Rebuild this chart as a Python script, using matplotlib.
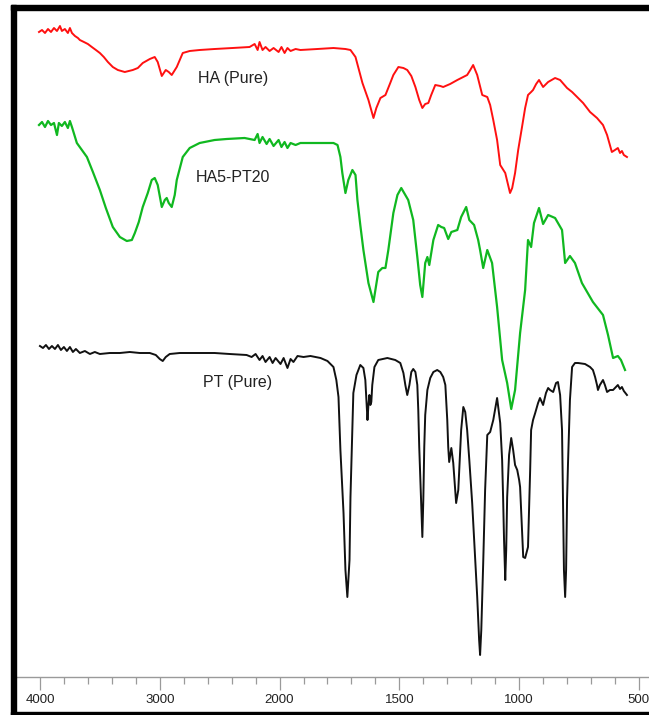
import numpy as np
import matplotlib
matplotlib.use("Agg")
import matplotlib.pyplot as plt
from matplotlib.patches import Rectangle

plt.rcParams['font.family'] = ['Liberation Sans', 'DejaVu Sans']

# ---- FTIR spectra (wavenumber in cm-1, transmittance in arbitrary offset units) ----
ha_wn = [4008, 3983, 3958, 3933, 3908, 3883, 3858, 3833, 3817, 3792, 3767, 3750, 3733, 3708,
         3683, 3667, 3633, 3600, 3567, 3533, 3500, 3467, 3433, 3392, 3350, 3292, 3225, 3183,
         3142, 3083, 3042, 3017, 2983, 2950, 2925, 2900, 2858, 2808, 2750, 2667, 2542, 2392,
         2250, 2208, 2183, 2167, 2142, 2117, 2083, 2050, 2008, 1992, 1979, 1967, 1954, 1933,
         1913, 1842, 1775, 1725, 1704, 1683, 1654, 1629, 1608, 1596, 1579, 1558, 1538, 1525,
         1504, 1483, 1467, 1450, 1433, 1417, 1404, 1392, 1379, 1367, 1350, 1329, 1317, 1288,
         1258, 1217, 1204, 1192, 1175, 1154, 1133, 1121, 1108, 1092, 1079, 1058, 1046, 1038,
         1029, 1017, 1004, 988, 975, 963, 950, 942, 929, 917, 900, 879, 850, 829, 800, 779,
         758, 733, 704, 675, 650, 633, 613, 600, 588, 579, 571, 563, 550]
ha_t = [64.5, 64.7, 64.4, 64.8, 64.5, 64.9, 64.6, 65.1, 64.6, 64.8, 64.4, 64.9, 64.4, 64.1,
        63.9, 63.7, 63.5, 63.3, 63.0, 62.7, 62.4, 62.0, 61.5, 61.0, 60.7, 60.5, 60.7, 60.9,
        61.4, 61.8, 62.0, 61.5, 60.1, 60.7, 60.5, 60.2, 61.0, 62.4, 62.6, 62.7, 62.8, 62.9,
        63.0, 63.3, 62.7, 63.5, 62.7, 63.0, 62.6, 62.9, 62.5, 63.0, 62.4, 62.9, 62.6, 62.8,
        62.7, 62.8, 62.9, 62.8, 62.7, 62.0, 59.4, 57.7, 55.9, 56.9, 57.9, 58.2, 59.4, 60.2,
        61.0, 60.9, 60.7, 60.1, 59.0, 57.7, 56.9, 57.3, 57.4, 58.2, 59.2, 59.1, 59.0, 59.3,
        59.7, 60.2, 60.7, 61.2, 60.2, 58.2, 58.0, 57.2, 55.7, 53.7, 51.2, 50.4, 49.2, 48.4,
        48.9, 50.4, 52.7, 55.0, 56.9, 58.2, 58.5, 58.7, 59.3, 59.7, 59.0, 59.5, 59.9, 59.7,
        58.9, 58.5, 58.0, 57.4, 56.5, 55.9, 55.2, 54.2, 52.5, 52.7, 52.9, 52.4, 52.6, 52.2, 52.0]

blend_wn = [4008, 3983, 3958, 3933, 3908, 3883, 3858, 3842, 3817, 3792, 3767, 3750, 3733, 3692,
            3650, 3608, 3558, 3500, 3450, 3392, 3333, 3275, 3233, 3208, 3175, 3142, 3100, 3067,
            3042, 3017, 2983, 2958, 2942, 2925, 2900, 2875, 2858, 2808, 2750, 2667, 2542, 2442,
            2292, 2208, 2183, 2167, 2142, 2108, 2083, 2050, 2008, 1992, 1979, 1967, 1954, 1933,
            1913, 1842, 1775, 1758, 1746, 1738, 1725, 1713, 1696, 1683, 1675, 1663, 1650, 1629,
            1608, 1588, 1571, 1558, 1546, 1525, 1508, 1492, 1475, 1463, 1442, 1425, 1413, 1404,
            1392, 1383, 1375, 1358, 1338, 1325, 1313, 1296, 1283, 1258, 1242, 1221, 1208, 1188,
            1171, 1163, 1150, 1133, 1113, 1092, 1071, 1050, 1033, 1017, 996, 975, 963, 950, 938,
            917, 900, 879, 850, 821, 808, 788, 767, 738, 692, 650, 629, 608, 588, 575, 558]
blend_t = [55.2, 55.5, 55.0, 55.6, 55.2, 55.4, 54.2, 55.4, 55.1, 55.5, 54.9, 55.6, 55.0, 53.4,
           52.7, 52.0, 50.5, 48.7, 46.9, 45.0, 44.0, 43.6, 43.7, 44.4, 45.5, 47.0, 48.4, 49.7,
           49.9, 49.2, 47.0, 47.7, 47.9, 47.4, 47.0, 48.2, 49.7, 52.0, 52.9, 53.4, 53.7, 53.8,
           53.9, 53.7, 54.3, 53.4, 54.0, 53.3, 53.8, 53.1, 53.7, 53.0, 53.5, 52.9, 53.4, 53.2,
           53.4, 53.4, 53.4, 53.2, 52.0, 50.4, 48.4, 49.7, 50.7, 50.2, 47.7, 45.2, 42.7, 39.4,
           37.5, 40.5, 40.9, 40.9, 42.7, 46.4, 48.2, 48.9, 48.2, 47.7, 45.7, 42.0, 39.2, 38.0,
           41.4, 42.0, 41.2, 43.7, 45.2, 45.0, 44.9, 43.8, 44.5, 44.7, 46.0, 47.0, 45.7, 45.2,
           43.7, 42.7, 40.9, 42.7, 41.4, 37.0, 31.7, 29.4, 26.8, 28.7, 34.4, 38.7, 43.7, 43.0, 45.4,
           46.9, 45.3, 46.2, 45.9, 44.7, 41.4, 42.1, 41.4, 39.4, 37.5, 36.2, 34.2, 31.9, 32.1, 31.7, 30.7]

pt_wn = [4000, 3975, 3950, 3925, 3900, 3875, 3850, 3825, 3800, 3775, 3750, 3725, 3700, 3667,
         3625, 3583, 3542, 3500, 3417, 3333, 3250, 3167, 3083, 3033, 3000, 2975, 2950, 2917,
         2833, 2750, 2642, 2542, 2417, 2275, 2233, 2200, 2167, 2142, 2117, 2083, 2058, 2033,
         1996, 1983, 1967, 1954, 1942, 1925, 1900, 1871, 1829, 1800, 1775, 1763, 1754, 1746,
         1733, 1725, 1717, 1708, 1704, 1696, 1692, 1679, 1663, 1650, 1642, 1638, 1633, 1629,
         1625, 1621, 1617, 1613, 1604, 1588, 1550, 1517, 1496, 1483, 1475, 1467, 1458, 1450,
         1442, 1433, 1425, 1421, 1417, 1408, 1404, 1400, 1396, 1392, 1383, 1371, 1358, 1342,
         1329, 1317, 1308, 1300, 1296, 1292, 1283, 1275, 1267, 1263, 1254, 1250, 1242, 1233,
         1225, 1217, 1208, 1196, 1183, 1175, 1167, 1163, 1158, 1150, 1142, 1133, 1121, 1108,
         1092, 1079, 1071, 1067, 1063, 1058, 1054, 1050, 1042, 1033, 1025, 1017, 1008, 1000,
         996, 988, 983, 975, 963, 954, 950, 942, 933, 921, 913, 900, 888, 879, 871, 858, 846,
         838, 829, 821, 817, 813, 808, 804, 800, 796, 788, 779, 767, 754, 725, 704, 692, 683,
         675, 671, 663, 650, 642, 633, 621, 608, 596, 588, 579, 571, 563, 550]
pt_t = [33.1, 32.9, 33.2, 32.8, 33.1, 32.8, 33.2, 32.7, 33.0, 32.6, 33.0, 32.5, 32.8, 32.4,
        32.6, 32.3, 32.5, 32.3, 32.4, 32.4, 32.5, 32.4, 32.4, 32.2, 31.8, 31.6, 32.0, 32.3,
        32.4, 32.4, 32.4, 32.4, 32.3, 32.2, 32.0, 32.3, 31.7, 32.1, 31.5, 32.0, 31.4, 31.9,
        31.3, 31.9, 30.9, 31.8, 31.5, 32.1, 32.0, 32.1, 31.9, 31.6, 31.0, 29.7, 28.0, 22.7,
        16.4, 10.7, 8.0, 11.7, 18.0, 24.7, 28.4, 30.2, 31.2, 30.9, 29.7, 28.0, 25.7, 27.2,
        28.2, 27.2, 27.5, 29.2, 31.0, 31.7, 31.9, 31.7, 31.4, 30.4, 29.2, 28.2, 29.2, 30.5,
        30.8, 30.5, 29.2, 26.7, 23.0, 16.7, 14.0, 17.7, 23.0, 26.2, 28.7, 29.9, 30.5, 30.7,
        30.5, 30.0, 29.2, 25.7, 23.0, 21.5, 22.9, 21.4, 18.7, 17.4, 18.7, 20.7, 24.7, 27.0,
        26.5, 24.7, 21.7, 17.4, 11.7, 8.0, 3.7, 2.2, 4.7, 11.4, 18.7, 24.2, 24.5, 25.7,
        27.9, 25.4, 21.7, 18.0, 13.7, 9.7, 12.7, 18.0, 22.2, 23.9, 22.7, 21.2, 20.7, 19.7,
        19.0, 14.7, 12.0, 11.9, 13.0, 20.7, 24.7, 25.7, 26.4, 27.4, 27.9, 27.2, 28.4, 28.9, 28.7, 28.5, 29.4,
        29.5, 28.2, 24.7, 17.7, 10.7, 8.0, 10.7, 17.7, 21.4, 27.7, 31.0, 31.4, 31.4, 31.3, 31.0, 30.7, 30.0,
        29.2, 28.7, 29.2, 29.7, 29.2, 28.5, 28.7, 28.7, 29.0, 29.2, 28.8, 29.0, 28.6, 28.2]

labels = ["HA (Pure)", "HA5-PT20", "PT (Pure)"]
label_pos = [(2683, 59.8), (2700, 50.0), (2642, 29.4)]

major_ticks = [4000, 3000, 2000, 1500, 1000, 500]
minor_ticks = [3800, 3600, 3400, 3200, 2800, 2600, 2400, 2200,
               1900, 1800, 1700, 1600, 1400, 1300, 1200, 1100,
               900, 800, 700, 600]


# split wavenumber axis: above 2000 cm-1 is compressed by a factor of two
def fwd(x):
    x = np.asarray(x, dtype=float)
    return np.where(x > 2000, 2000 + (x - 2000) / 2.0, x)


def inv(u):
    u = np.asarray(u, dtype=float)
    return np.where(u > 2000, 2000 + (u - 2000) * 2.0, u)


W, H = 649, 715
fig = plt.figure(figsize=(W / 100, H / 100), dpi=100)

ax = fig.add_axes([16 / W, 38 / H, 633 / W, 667 / H])
ax.set_xscale('function', functions=(fwd, inv))
ax.set_xlim(4200, 458)
ax.set_ylim(0, 66.7)

ax.plot(ha_wn, ha_t, color='#ff1010', lw=1.4)
ax.plot(blend_wn, blend_t, color='#10b820', lw=1.6)
ax.plot(pt_wn, pt_t, color='#111111', lw=1.4)

for txt, (xw, yv) in zip(labels, label_pos):
    ax.text(xw, yv, txt, fontsize=11.5, color='#222222', ha='left', va='center')

ax.set_xticks(major_ticks)
ax.set_xticklabels([str(t) for t in major_ticks])
ax.set_xticks(minor_ticks, minor=True)
ax.set_yticks([])
for s in ['left', 'right', 'top']:
    ax.spines[s].set_visible(False)
ax.spines['bottom'].set_color('#9a9a9a')
ax.spines['bottom'].set_linewidth(1.0)
ax.tick_params(axis='x', which='major', direction='out', length=9.5, width=0.9,
               color='#9a9a9a', labelsize=9.5, labelcolor='#222222', pad=3)
ax.tick_params(axis='x', which='minor', direction='out', length=5, width=0.9,
               color='#9a9a9a')

# heavy black frame around the panel
fig.patches.append(Rectangle((11 / W, 0), 5 / W, 1 - 5 / H, transform=fig.transFigure,
                             color='black', zorder=10))
fig.patches.append(Rectangle((11 / W, 1 - 10 / H), 1 - 11 / W, 5 / H, transform=fig.transFigure,
                             color='black', zorder=10))
fig.patches.append(Rectangle((11 / W, 0), 1 - 11 / W, 3 / H, transform=fig.transFigure,
                             color='black', zorder=10))

fig.savefig('out.png', dpi=100)
